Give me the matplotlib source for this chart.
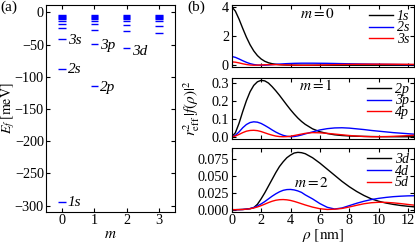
import matplotlib
matplotlib.use("Agg")
import matplotlib.pyplot as plt

plt.rcParams['font.family'] = ['Liberation Serif', 'DejaVu Serif']
plt.rcParams['mathtext.fontset'] = 'stix'
plt.rcParams['font.size'] = 11

# ---------------- data ----------------
m_values = [0, 1, 2, 3]
levels_m0 = [-295, -87.5, -41.5, -24, -17.5, -13, -10, -8, -6.5, -5, -4]
levels_m1 = [-114.5, -49.5, -28, -18, -13, -10, -8, -6.5, -5, -4]
levels_m2 = [-55.5, -29.5, -19.5, -14, -10.5, -8, -6.5, -5, -4]
levels_m3 = [-32, -20.5, -14, -10.5, -8, -6.5, -5, -4]
level_labels = ['1s', '2s', '3s', '2p', '3p', '3d']
label_m = [0, 0, 0, 1, 1, 2]
label_E = [-295.5, -89, -43.5, -117, -51, -60]

rho = [0, .25, .5, .75, 1, 1.25, 1.5, 1.75, 2, 2.25, 2.5, 2.75, 3, 3.25, 3.5,
       3.75, 4, 4.25, 4.5, 4.75, 5, 5.5, 6, 6.5, 7, 7.5, 8, 8.5, 9, 9.5, 10,
       10.5, 11, 11.5, 12, 12.5]

f_1s = [4.00, 3.70, 3.15, 2.52, 1.92, 1.40, 0.98, 0.66, 0.43, 0.27, 0.17, 0.105,
        0.065, 0.04, 0.025, 0.015, 0.009, 0.005, 0.003, 0.002, 0.001,
        0, 0, 0, 0, 0, 0, 0, 0, 0, 0, 0, 0, 0, 0, 0]
f_2s = [0.60, 0.54, 0.43, 0.31, 0.20, 0.11, 0.05, 0.015, 0.002, 0.005, 0.02,
        0.04, 0.06, 0.08, 0.095, 0.11, 0.12, 0.13, 0.135, 0.14, 0.14, 0.14,
        0.135, 0.13, 0.12, 0.11, 0.10, 0.092, 0.084, 0.076, 0.069, 0.062,
        0.056, 0.05, 0.045, 0.041]
f_3s = [0.23, 0.21, 0.16, 0.10, 0.05, 0.015, 0.001, 0.008, 0.02, 0.032, 0.04,
        0.043, 0.042, 0.038, 0.031, 0.023, 0.015, 0.008, 0.003, 0.0005, 0.0005,
        0.006, 0.016, 0.028, 0.04, 0.05, 0.058, 0.064, 0.068, 0.07, 0.071,
        0.07, 0.068, 0.065, 0.062, 0.058]

f_2p = [0, 0.022, 0.075, 0.14, 0.20, 0.25, 0.285, 0.305, 0.313, 0.31, 0.298,
        0.278, 0.255, 0.23, 0.203, 0.176, 0.15, 0.126, 0.104, 0.085, 0.069,
        0.044, 0.028, 0.018, 0.011, 0.007, 0.0045, 0.003, 0.002, 0.0013,
        0.0008, 0.0005, 0.0003, 0.0002, 0.0001, 0.0001]
f_3p = [0, 0.008, 0.027, 0.05, 0.068, 0.079, 0.083, 0.081, 0.074, 0.063, 0.051,
        0.038, 0.026, 0.016, 0.008, 0.003, 0.0005, 0.0015, 0.005, 0.01, 0.016,
        0.027, 0.038, 0.045, 0.049, 0.05, 0.048, 0.044, 0.04, 0.035, 0.031,
        0.027, 0.023, 0.02, 0.017, 0.014]
f_4p = [0, 0.004, 0.013, 0.023, 0.031, 0.035, 0.036, 0.034, 0.029, 0.022,
        0.015, 0.009, 0.004, 0.0012, 0.0002, 0.0008, 0.003, 0.007, 0.011,
        0.015, 0.019, 0.023, 0.022, 0.019, 0.015, 0.011, 0.007, 0.004, 0.0018,
        0.0004, 0.0002, 0.001, 0.0025, 0.0045, 0.0065, 0.0085]

f_3d = [0, 0, 0.0001, 0.0003, 0.0008, 0.0015, 0.003, 0.008, 0.016, 0.025,
        0.035, 0.045, 0.055, 0.064, 0.071, 0.077, 0.081, 0.084, 0.085, 0.0845,
        0.083, 0.077, 0.069, 0.06, 0.051, 0.042, 0.034, 0.027, 0.021, 0.016,
        0.0125, 0.0098, 0.0078, 0.0062, 0.005, 0.004]
f_4d = [0, 0, 0.0001, 0.0003, 0.0008, 0.0017, 0.0032, 0.0055, 0.0085, 0.012,
        0.016, 0.02, 0.0235, 0.0265, 0.0287, 0.0298, 0.0300, 0.0293, 0.0278,
        0.0256, 0.022, 0.016, 0.009, 0.0035, 0.001, 0.0025, 0.006, 0.0095,
        0.0125, 0.015, 0.0168, 0.0182, 0.0193, 0.02, 0.0205, 0.0207]
f_5d = [0, 0, 0.0001, 0.0003, 0.0007, 0.0014, 0.0025, 0.004, 0.006, 0.0082,
        0.0105, 0.0125, 0.014, 0.0148, 0.015, 0.0146, 0.0137, 0.0123, 0.0106,
        0.0088, 0.007, 0.0038, 0.0014, 0.0003, 0.0007, 0.0018, 0.004, 0.0065,
        0.0088, 0.0103, 0.011, 0.0108, 0.0101, 0.009, 0.0077, 0.0065]

panels = [
    ('$m=0$', [f_1s, f_2s, f_3s], ['1s', '2s', '3s'], (-0.12, 4.12), [0, 2, 4], ['0', '2', '4'], (0.47, 0.85)),
    ('$m=1$', [f_2p, f_3p, f_4p], ['2p', '3p', '4p'], (-0.014, 0.326), [0.0, 0.1, 0.2, 0.3], ['0.0', '0.1', '0.2', '0.3'], (0.46, 0.88)),
    ('$m=2$', [f_3d, f_4d, f_5d], ['3d', '4d', '5d'], (-0.003, 0.091), [0.0, 0.025, 0.05, 0.075], ['0.000', '0.025', '0.050', '0.075'], (0.44, 0.45)),
]
colors = ['black', 'blue', 'red']

# ---------------- figure ----------------
W, H = 415, 243
fig = plt.figure(figsize=(W / 100, H / 100), dpi=100)

def ax_rect(x0, y0, x1, y1):
    return [x0 / W, 1 - y1 / H, (x1 - x0) / W, (y1 - y0) / H]

TICK = 10.2

# left panel
axa = fig.add_axes(ax_rect(46, 4.7, 175, 212))
all_levels = [levels_m0, levels_m1, levels_m2, levels_m3]
for m, lev in zip(m_values, all_levels):
    axa.hlines(lev, m - 0.12, m + 0.12, color='blue', lw=1.0)
for lab, m, e in zip(level_labels, label_m, label_E):
    axa.text(m + 0.17, e, lab, style='italic', fontsize=11, va='center', ha='left')
axa.set_xlim(-0.5, 3.5)
axa.set_ylim(-310, 12)
axa.set_xticks(m_values)
axa.set_yticks([0, -50, -100, -150, -200, -250, -300])
axa.tick_params(direction='in', top=True, right=True, length=3, labelsize=TICK, pad=1.5)
fig.text(110 / W, 1 - 234 / H, '$m$', ha='center', va='center', fontsize=11)
fig.text(8 / W, 1 - 108 / H, r'$E_f\;[\mathrm{meV}]$', rotation=90, ha='center', va='center', fontsize=10)

# right panels
rects = [(5, 67), (78, 139.3), (148.3, 211.7)]
axes_b = []
for (title, curves, labs, ylim, yt, ytl, tpos), (t, b) in zip(panels, rects):
    ax = fig.add_axes(ax_rect(231.7, t, 414, b))
    for c, col, lab in zip(curves, colors, labs):
        ax.plot(rho, c, color=col, lw=1.0, label=lab)
    ax.set_xlim(0, 12.4)
    ax.set_ylim(*ylim)
    ax.set_yticks(yt)
    ax.set_yticklabels(ytl)
    ax.set_xticks([0, 2, 4, 6, 8, 10, 12])
    ax.tick_params(direction='in', top=True, right=True, length=3, labelsize=TICK, pad=2)
    ax.text(tpos[0], tpos[1], title, transform=ax.transAxes, ha='center', va='center', fontsize=11)
    ax.legend(loc='upper right', frameon=False, prop={'family': 'Liberation Serif', 'style': 'italic', 'size': 10},
              handlelength=1.7, handletextpad=0.3, labelspacing=-0.1, borderaxespad=0.1, borderpad=0.25)
    axes_b.append(ax)
for ax in axes_b[:-1]:
    ax.set_xticklabels([])
fig.text(323 / W, 1 - 235 / H, r'$\rho\ [\mathrm{nm}]$', ha='center', va='center', fontsize=11)
fig.text(192 / W, 1 - 108 / H, r'$r_{\rm eff}^2\,|f(\rho)|^2$', rotation=90, ha='center', va='center', fontsize=11)

fig.text(0 / W, 1 - 7 / H, '(a)', ha='left', va='center', fontsize=11)
fig.text(187 / W, 1 - 7 / H, '(b)', ha='left', va='center', fontsize=11)

fig.savefig('out.png', dpi=100)
